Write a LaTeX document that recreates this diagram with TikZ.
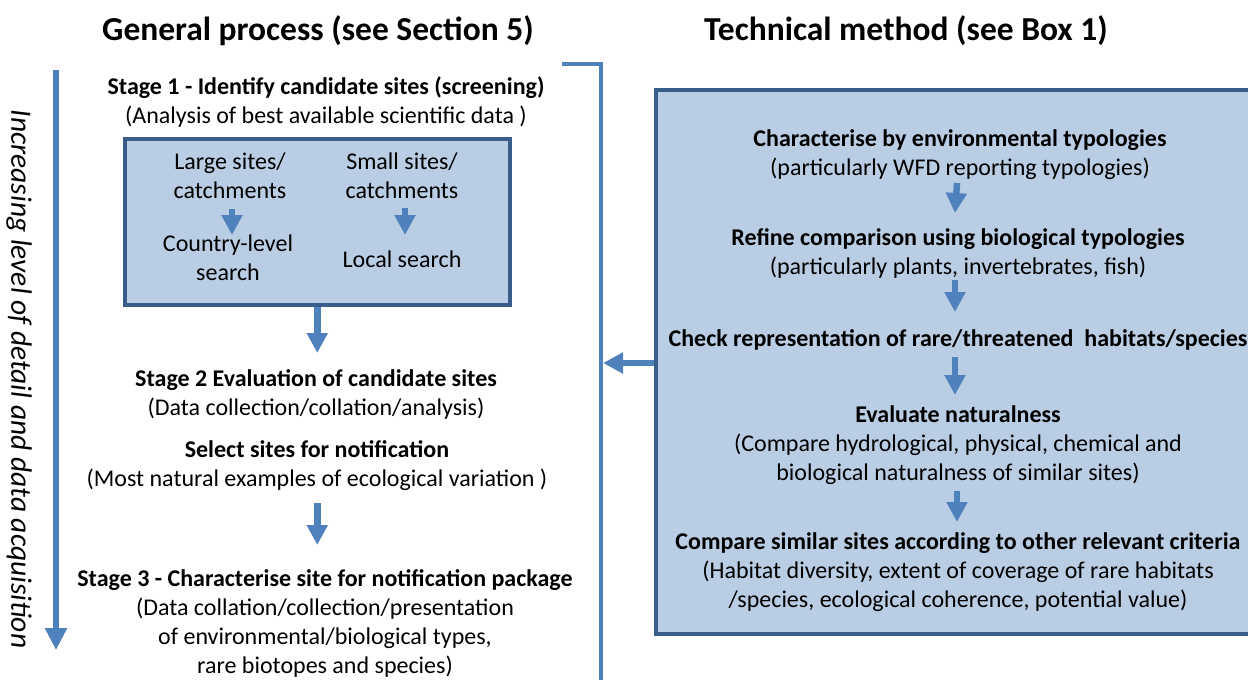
\documentclass[tikz,border=0pt]{standalone}
\usepackage{fontspec}
\setmainfont{Carlito}
\usetikzlibrary{arrows.meta}
\definecolor{arrowblue}{HTML}{4F81BD}
\definecolor{boxfill}{HTML}{B9CDE5}
\definecolor{boxline}{HTML}{385D8A}
\begin{document}
\begin{tikzpicture}[x=1pt,y=-1pt,
  txt/.style={anchor=base, align=center, inner sep=0pt, font=\fontsize{24}{28.7}\selectfont},
  ttl/.style={anchor=base, inner sep=0pt, font=\fontsize{33.5}{38}\selectfont\bfseries},
  panel/.style={draw=boxline, fill=boxfill, line width=3.5pt, inner sep=0pt, anchor=north west},
  bigarrow/.style={draw=arrowblue, line width=6.5pt, -{Triangle[width=20pt,length=20pt]}},
  smallarrow/.style={draw=arrowblue, line width=6.5pt, -{Triangle[width=20pt,length=20pt]}},
  mainarrow/.style={draw=arrowblue, line width=6pt, -{Triangle[width=21pt,length=22pt]}},
  bracket/.style={draw=arrowblue, line width=3.5pt},
]
\path[use as bounding box, clip] (0,0) rectangle (1248,680);

% titles
\node[ttl] (tgen) at (318,40) {General process (see Section 5)};
\node[ttl] (ttech) at (906,40) {Technical method (see Box 1)};

% side arrow and label
\coordinate (vtop) at (56,70);
\coordinate (vbot) at (56,650);
\draw[mainarrow] (vtop) -- (vbot);
\node[txt, anchor=center, rotate=-90, font=\fontsize{29.5}{34}\selectfont\itshape] (vlabel) at (19,379) {Increasing level of detail and data acquisition};

% bracket
\coordinate (bl) at (562,64);
\coordinate (br) at (601,64);
\coordinate (bb) at (601,684);
\draw[bracket] (bl) -- (br) -- (bb);

% stage 1 (base anchor = baseline of the last line)
\node[txt] (s1) at (326,123) {\textbf{Stage 1 - Identify candidate sites (screening)}\\(Analysis of best available scientific data )};
\node[panel, minimum width=385pt, minimum height=166pt] (search) at (123,137) {};
\node[txt] (large) at (230,198) {Large sites/\\catchments};
\node[txt] (country) at (228,280) {Country-level\\search};
\node[txt] (small) at (402,198) {Small sites/\\catchments};
\node[txt] (local) at (402,267) {Local search};
\draw[smallarrow] ([xshift=2pt,yshift=-11pt]large.base) -- ([xshift=4pt,yshift=45pt]country.base);
\draw[smallarrow] ([xshift=3pt,yshift=-10pt]small.base) -- ([xshift=3pt,yshift=32pt]local.base);

% stage 2
\node[txt] (s2) at (316,415) {\textbf{Stage 2 Evaluation of candidate sites}\\(Data collection/collation/analysis)};
\node[txt] (sel) at (317,486) {\textbf{Select sites for notification}\\(Most natural examples of ecological variation )};
\draw[bigarrow] (search.south) -- ([yshift=62pt]s2.base -| search.south);

% stage 3
\node[txt] (s3) at (325,673) {\textbf{Stage 3 - Characterise site for notification package}\\(Data collation/collection/presentation\\of environmental/biological types,\\rare biotopes and species)};
\draw[bigarrow] ([yshift=-17pt]sel.base -| search.south) -- ([yshift=128pt]s3.base -| search.south);

% technical method panel
\node[panel, minimum width=610pt, minimum height=544pt] (tech) at (654,88) {};
\coordinate (bk) at (603,363);
\draw[bigarrow] (tech.west |- bk) -- (bk);

\node[txt] (r1) at (960,175) {\textbf{Characterise by environmental typologies}\\(particularly WFD reporting typologies)};
\node[txt] (r2) at (958,274) {\textbf{Refine comparison using biological typologies}\\(particularly plants, invertebrates, fish)};
\node[txt] (r3) at (958,346) {\textbf{Check representation of rare/threatened\ \ habitats/species}};
\node[txt] (r4) at (958,480) {\textbf{Evaluate naturalness}\\(Compare hydrological, physical, chemical and\\biological naturalness of similar sites)};
\node[txt] (r5) at (958,607) {\textbf{Compare similar sites according to other relevant criteria}\\(Habitat diversity, extent of coverage of rare habitats\\/species, ecological coherence, potential value)};
\draw[smallarrow] ([xshift=-3pt,yshift=-8pt]r1.base) -- ([xshift=-3pt,yshift=61pt]r2.base);
\draw[smallarrow] ([xshift=-3pt,yshift=-6pt]r2.base) -- ([xshift=-3pt,yshift=34pt]r3.base);
\draw[smallarrow] ([xshift=-3pt,yshift=-11pt]r3.base) -- ([xshift=-3pt,yshift=85pt]r4.base);
\draw[smallarrow] ([xshift=-1pt,yshift=-11pt]r4.base) -- ([xshift=-1pt,yshift=85pt]r5.base);
\end{tikzpicture}
\end{document}
